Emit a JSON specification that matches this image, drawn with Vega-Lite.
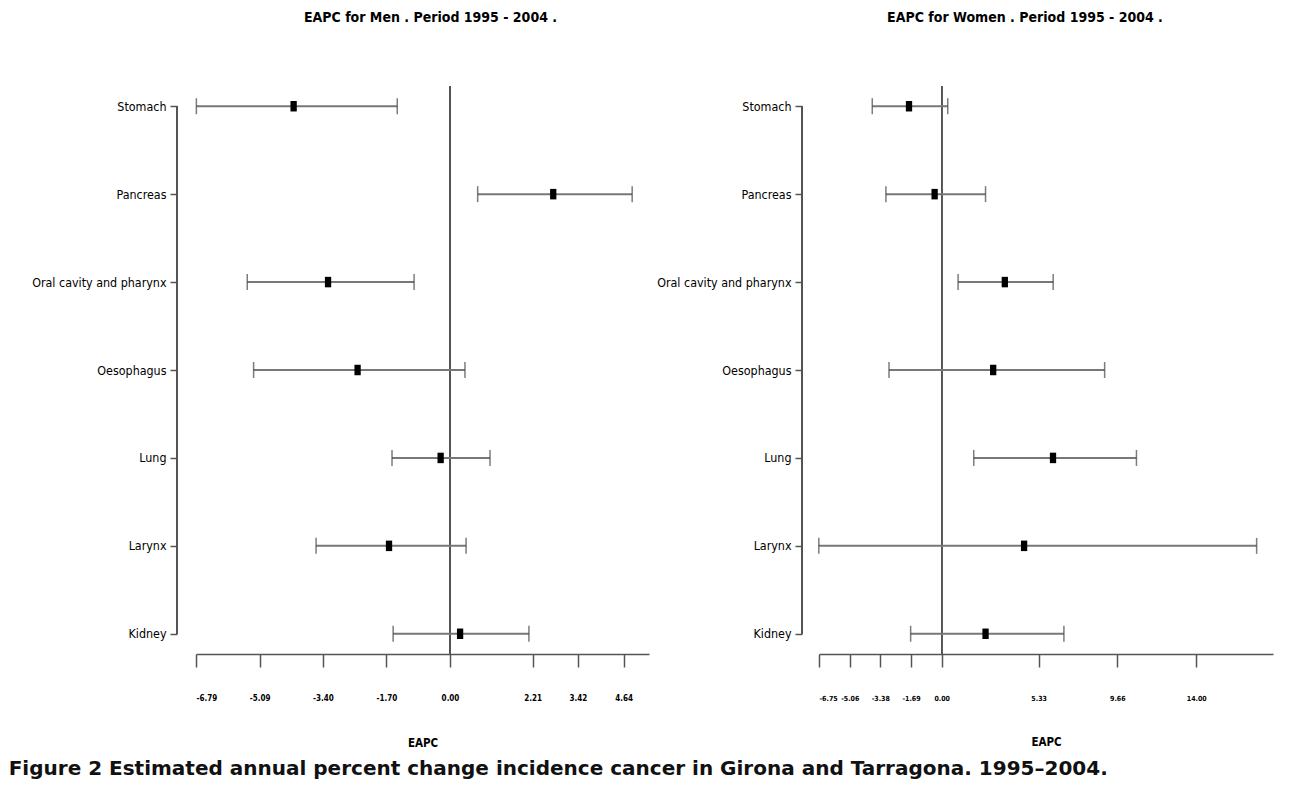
{
  "$schema": "https://vega.github.io/schema/vega-lite/v6.json",
  "background": "white",
  "padding": {"left": 8, "top": 11, "right": 5, "bottom": 5},
  "config": {
    "view": {"stroke": null},
    "font": "DejaVu Sans Condensed, Liberation Sans",
    "axis": {"grid": false}
  },
  "datasets": {
    "men": [
      {"site": "Stomach", "est": -4.18, "lo": -6.78, "hi": -1.41},
      {"site": "Pancreas", "est": 2.76, "lo": 0.74, "hi": 4.87},
      {"site": "Oral cavity and pharynx", "est": -3.26, "lo": -5.42, "hi": -0.96},
      {"site": "Oesophagus", "est": -2.47, "lo": -5.25, "hi": 0.4},
      {"site": "Lung", "est": -0.25, "lo": -1.55, "hi": 1.07},
      {"site": "Larynx", "est": -1.63, "lo": -3.58, "hi": 0.43},
      {"site": "Kidney", "est": 0.27, "lo": -1.52, "hi": 2.11}
    ],
    "women": [
      {"site": "Stomach", "est": -1.8, "lo": -3.82, "hi": 0.33},
      {"site": "Pancreas", "est": -0.39, "lo": -3.07, "hi": 2.41},
      {"site": "Oral cavity and pharynx", "est": 3.47, "lo": 0.9, "hi": 6.13},
      {"site": "Oesophagus", "est": 2.83, "lo": -2.9, "hi": 8.96},
      {"site": "Lung", "est": 6.12, "lo": 1.76, "hi": 10.71},
      {"site": "Larynx", "est": 4.53, "lo": -6.76, "hi": 17.32},
      {"site": "Kidney", "est": 2.41, "lo": -1.71, "hi": 6.72}
    ]
  },
  "title": {
    "text": "Figure 2 Estimated annual percent change incidence cancer in Girona and Tarragona. 1995–2004.",
    "orient": "bottom",
    "anchor": "start",
    "font": "DejaVu Sans",
    "fontSize": 20,
    "fontWeight": "bold",
    "color": "#111",
    "offset": 10,
    "dx": -23
  },
  "hconcat": [
    {
      "width": 453,
      "height": 568,
      "title": {"text": "EAPC for Men . Period  1995 - 2004 .", "fontSize": 14, "fontWeight": "bold", "font": "DejaVu Sans Condensed, Liberation Sans", "offset": 60, "dx": 8, "color": "#000"},
      "data": {"name": "men"},
      "layer": [
        {
          "mark": {"type": "rule", "color": "#555", "strokeWidth": 1.2},
          "encoding": {
            "x": {"datum": 0, "type": "quantitative", "scale": {"domain": [-6.79, 5.32], "nice": false, "zero": false},
              "axis": {"values": [-6.79, -5.09, -3.4, -1.7, 0, 2.21, 3.42, 4.64], "format": ".2f", "labelExpr": "replace(datum.label, '−', '-')", "labelOverlap": false, "domainColor": "#555", "domainWidth": 1.5, "tickColor": "#555", "tickWidth": 1.5, "tickSize": 13, "labelPadding": 27, "labelFontSize": 8, "labelFontWeight": "bold", "labelColor": "#000", "title": "EAPC", "titleFontSize": 11.5, "titleFontWeight": "bold", "titlePadding": 35, "titleColor": "#000"}}
          }
        },
        {
          "mark": {"type": "rule", "color": "#555", "strokeWidth": 1.5},
          "encoding": {
            "x": {"datum": -7.297, "type": "quantitative"},
            "y": {"datum": "Stomach", "type": "nominal"},
            "y2": {"datum": "Kidney"}
          }
        },
        {
          "mark": {"type": "rule", "color": "#777", "strokeWidth": 2},
          "encoding": {
            "y": {"field": "site", "type": "nominal", "scale": {"type": "point", "padding": 0.23, "domain": ["Stomach", "Pancreas", "Oral cavity and pharynx", "Oesophagus", "Lung", "Larynx", "Kidney"]},
              "axis": {"domain": false, "ticks": true, "tickSize": 7, "tickColor": "#555", "tickWidth": 1.5, "offset": 19, "labelFontSize": 12.4, "labelColor": "#000", "labelPadding": 4, "title": null}},
            "x": {"field": "lo", "type": "quantitative"},
            "x2": {"field": "hi"}
          }
        },
        {
          "mark": {"type": "tick", "color": "#444", "size": 16, "thickness": 1.5, "orient": "vertical"},
          "encoding": {"y": {"field": "site", "type": "nominal"}, "x": {"field": "lo", "type": "quantitative"}}
        },
        {
          "mark": {"type": "tick", "color": "#444", "size": 16, "thickness": 1.5, "orient": "vertical"},
          "encoding": {"y": {"field": "site", "type": "nominal"}, "x": {"field": "hi", "type": "quantitative"}}
        },
        {
          "mark": {"type": "point", "shape": "M-0.6,-1H0.6V1H-0.6Z", "filled": true, "color": "#000", "size": 110, "opacity": 1},
          "encoding": {"y": {"field": "site", "type": "nominal"}, "x": {"field": "est", "type": "quantitative"}}
        }
      ]
    },
    {
      "width": 454,
      "height": 568,
      "title": {"text": "EAPC for Women . Period  1995 - 2004 .", "fontSize": 14, "fontWeight": "bold", "font": "DejaVu Sans Condensed, Liberation Sans", "offset": 60, "dx": -21, "color": "#000"},
      "data": {"name": "women"},
      "layer": [
        {
          "mark": {"type": "rule", "color": "#555", "strokeWidth": 1.2},
          "encoding": {
            "x": {"datum": 0, "type": "quantitative", "scale": {"domain": [-6.75, 18.22], "nice": false, "zero": false},
              "axis": {"values": [-6.75, -5.06, -3.38, -1.69, 0, 5.33, 9.66, 14], "format": ".2f", "labelExpr": "replace(datum.label, '−', '-')", "labelOverlap": false, "domainColor": "#555", "domainWidth": 1.5, "tickColor": "#555", "tickWidth": 1.5, "tickSize": 13, "labelPadding": 27, "labelFontSize": 7, "labelFontWeight": "bold", "labelColor": "#000", "title": "EAPC", "titleFontSize": 11.5, "titleFontWeight": "bold", "titlePadding": 35, "titleColor": "#000"}}
          }
        },
        {
          "mark": {"type": "rule", "color": "#555", "strokeWidth": 1.5},
          "encoding": {
            "x": {"datum": -7.685, "type": "quantitative"},
            "y": {"datum": "Stomach", "type": "nominal"},
            "y2": {"datum": "Kidney"}
          }
        },
        {
          "mark": {"type": "rule", "color": "#777", "strokeWidth": 2},
          "encoding": {
            "y": {"field": "site", "type": "nominal", "scale": {"type": "point", "padding": 0.23, "domain": ["Stomach", "Pancreas", "Oral cavity and pharynx", "Oesophagus", "Lung", "Larynx", "Kidney"]},
              "axis": {"domain": false, "ticks": true, "tickSize": 7, "tickColor": "#555", "tickWidth": 1.5, "offset": 17, "labelFontSize": 12.4, "labelColor": "#000", "labelPadding": 4, "title": null}},
            "x": {"field": "lo", "type": "quantitative"},
            "x2": {"field": "hi"}
          }
        },
        {
          "mark": {"type": "tick", "color": "#444", "size": 16, "thickness": 1.5, "orient": "vertical"},
          "encoding": {"y": {"field": "site", "type": "nominal"}, "x": {"field": "lo", "type": "quantitative"}}
        },
        {
          "mark": {"type": "tick", "color": "#444", "size": 16, "thickness": 1.5, "orient": "vertical"},
          "encoding": {"y": {"field": "site", "type": "nominal"}, "x": {"field": "hi", "type": "quantitative"}}
        },
        {
          "mark": {"type": "point", "shape": "M-0.6,-1H0.6V1H-0.6Z", "filled": true, "color": "#000", "size": 110, "opacity": 1},
          "encoding": {"y": {"field": "site", "type": "nominal"}, "x": {"field": "est", "type": "quantitative"}}
        }
      ]
    }
  ],
  "spacing": 170,
  "bounds": "flush"
}
